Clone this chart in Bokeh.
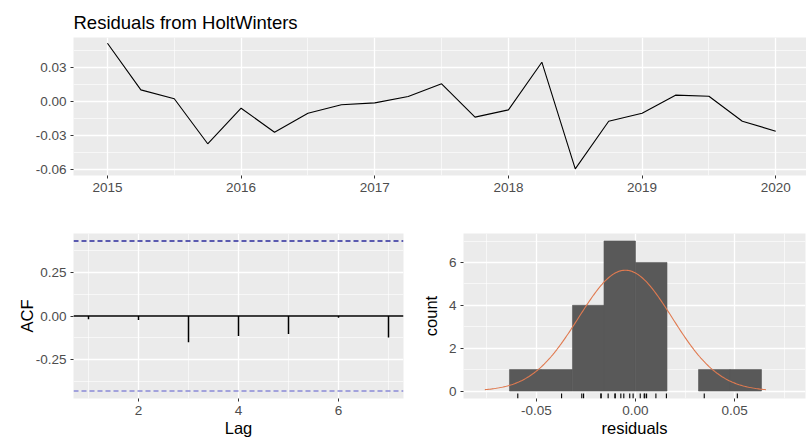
from bokeh.plotting import figure
from bokeh.layouts import column, row
from bokeh.models import Range1d, FixedTicker, NumeralTickFormatter
from bokeh.embed import file_html
from bokeh.resources import INLINE
import numpy as np

# ---------------- data ----------------
time_index = [2015.00, 2015.25, 2015.50, 2015.75, 2016.00, 2016.25, 2016.50, 2016.75,
              2017.00, 2017.25, 2017.50, 2017.75, 2018.00, 2018.25, 2018.50, 2018.75,
              2019.00, 2019.25, 2019.50, 2019.75, 2020.00]
residuals = [0.0514, 0.0103, 0.0024, -0.0373, -0.0059, -0.0271, -0.0103, -0.0029,
             -0.0012, 0.0044, 0.0156, -0.0138, -0.0074, 0.0347, -0.0594, -0.0174,
             -0.0103, 0.0056, 0.0047, -0.0174, -0.0262]

acf_lags = [1, 2, 3, 4, 5, 6, 7]
acf_values = [-0.019, -0.023, -0.150, -0.114, -0.103, -0.010, -0.122]
acf_limit = 0.4277

hist_edges = [-0.0636, -0.0477, -0.0318, -0.0159, 0.0, 0.0159, 0.0318, 0.0477, 0.0636]
hist_counts = [1, 1, 4, 7, 6, 0, 1, 1]

top_xticks = [2015, 2016, 2017, 2018, 2019, 2020]
top_xminor = [2015.5, 2016.5, 2017.5, 2018.5, 2019.5]
top_yticks = [-0.06, -0.03, 0.0, 0.03]
top_yminor = [-0.045, -0.015, 0.015, 0.045]
acf_xticks = [2, 4, 6]
acf_xminor = [1, 3, 5, 7]
acf_yticks = [-0.25, 0.0, 0.25]
acf_yminor = [-0.375, -0.125, 0.125, 0.375]
hist_xticks = [-0.05, 0.0, 0.05]
hist_xminor = [-0.075, -0.025, 0.025, 0.075]
hist_yticks = [0, 2, 4, 6]
hist_yminor = [1, 3, 5, 7]

FONT = "Liberation Sans"
PANEL = "#EBEBEB"
TICK_COLOR = "#4D4D4D"


def style(p, xt, xm, yt, ym, xfmt, yfmt):
    p.background_fill_color = PANEL
    p.border_fill_color = "white"
    p.outline_line_color = None
    p.xaxis.ticker = FixedTicker(ticks=xt, minor_ticks=xm)
    p.yaxis.ticker = FixedTicker(ticks=yt, minor_ticks=ym)
    p.xaxis.formatter = NumeralTickFormatter(format=xfmt)
    p.yaxis.formatter = NumeralTickFormatter(format=yfmt)
    for g in (p.xgrid, p.ygrid):
        g.grid_line_color = "white"
        g.grid_line_width = 1.3
        g.minor_grid_line_color = "white"
        g.minor_grid_line_width = 0.6
    for ax in (p.xaxis, p.yaxis):
        ax.axis_line_color = None
        ax.minor_tick_line_color = None
        ax.major_tick_line_color = "#333333"
        ax.major_tick_out = 3
        ax.major_tick_in = 0
        ax.major_label_text_font = FONT
        ax.major_label_text_font_size = "13.5px"
        ax.major_label_text_color = TICK_COLOR
        ax.major_label_standoff = 3
        ax.axis_label_text_font = FONT
        ax.axis_label_text_font_size = "16.5px"
        ax.axis_label_text_font_style = "normal"
        ax.axis_label_text_color = "black"


# ---------------- top: residual series ----------------
top = figure(width=806, height=205, output_backend="svg", toolbar_location=None,
             x_range=Range1d(2014.746, 2020.23), y_range=Range1d(-0.0653, 0.0565),
             min_border_left=73, min_border_right=0, min_border_top=37, min_border_bottom=30)
style(top, top_xticks, top_xminor, top_yticks, top_yminor, "0", "0.00")
top.title.text = "Residuals from HoltWinters"
top.title.align = "left"
top.title.text_font = FONT
top.title.text_font_size = "18.5px"
top.title.text_font_style = "normal"
top.title.text_color = "black"
top.line(time_index, residuals, line_color="black", line_width=1.1)

# ---------------- bottom-left: ACF ----------------
acf = figure(width=418, height=237, output_backend="svg", toolbar_location=None,
             x_range=Range1d(0.7, 7.3), y_range=Range1d(-0.4705, 0.4705),
             min_border_left=73, min_border_right=15, min_border_top=28, min_border_bottom=44)
style(acf, acf_xticks, acf_xminor, acf_yticks, acf_yminor, "0", "0.00")
acf.xaxis.axis_label = "Lag"
acf.yaxis.axis_label = "ACF"
acf.xaxis.axis_label_standoff = 1
acf.yaxis.axis_label_standoff = -3
acf.segment(x0=[0.7], y0=[0], x1=[7.3], y1=[0], line_color="black", line_width=1.6)
acf.segment(x0=acf_lags, y0=[0] * len(acf_lags), x1=acf_lags, y1=acf_values,
            line_color="black", line_width=1.5)
acf.segment(x0=[0.7], y0=[acf_limit], x1=[7.3], y1=[acf_limit],
            line_color="#2B2B9C", line_width=1.3, line_dash="5 3")
acf.segment(x0=[0.7], y0=[-acf_limit], x1=[7.3], y1=[-acf_limit],
            line_color="#8A8AD8", line_width=1.3, line_dash="5 3")

# ---------------- bottom-right: histogram ----------------
hist = figure(width=388, height=237, output_backend="svg", toolbar_location=None,
              x_range=Range1d(-0.0868, 0.0858), y_range=Range1d(-0.35, 7.35),
              min_border_left=35, min_border_right=1, min_border_top=28, min_border_bottom=43)
style(hist, hist_xticks, hist_xminor, hist_yticks, hist_yminor, "0.00", "0")
hist.xaxis.axis_label = "residuals"
hist.yaxis.axis_label = "count"
hist.xaxis.axis_label_standoff = 1
hist.yaxis.axis_label_standoff = 6

nz = [i for i, c in enumerate(hist_counts) if c > 0]
hist.quad(left=[hist_edges[i] for i in nz], right=[hist_edges[i + 1] for i in nz],
          bottom=[0] * len(nz), top=[hist_counts[i] for i in nz],
          fill_color="#595959", line_color="#595959", line_width=0.6)

res = np.array(residuals)
mu, sd = res.mean(), res.std(ddof=1)
binw = hist_edges[1] - hist_edges[0]
xs = np.linspace(mu - 3 * sd, mu + 3 * sd, 200)
ys = len(res) * binw * np.exp(-0.5 * ((xs - mu) / sd) ** 2) / (sd * np.sqrt(2 * np.pi))
hist.line(xs, ys, line_color="#E07A50", line_width=1.1)

hist.segment(x0=residuals, y0=[-0.35] * len(residuals), x1=residuals,
             y1=[-0.12] * len(residuals), line_color="black", line_width=1.1)

layout = column(top, row(acf, hist))
open("out.html", "w").write(file_html(layout, INLINE))
